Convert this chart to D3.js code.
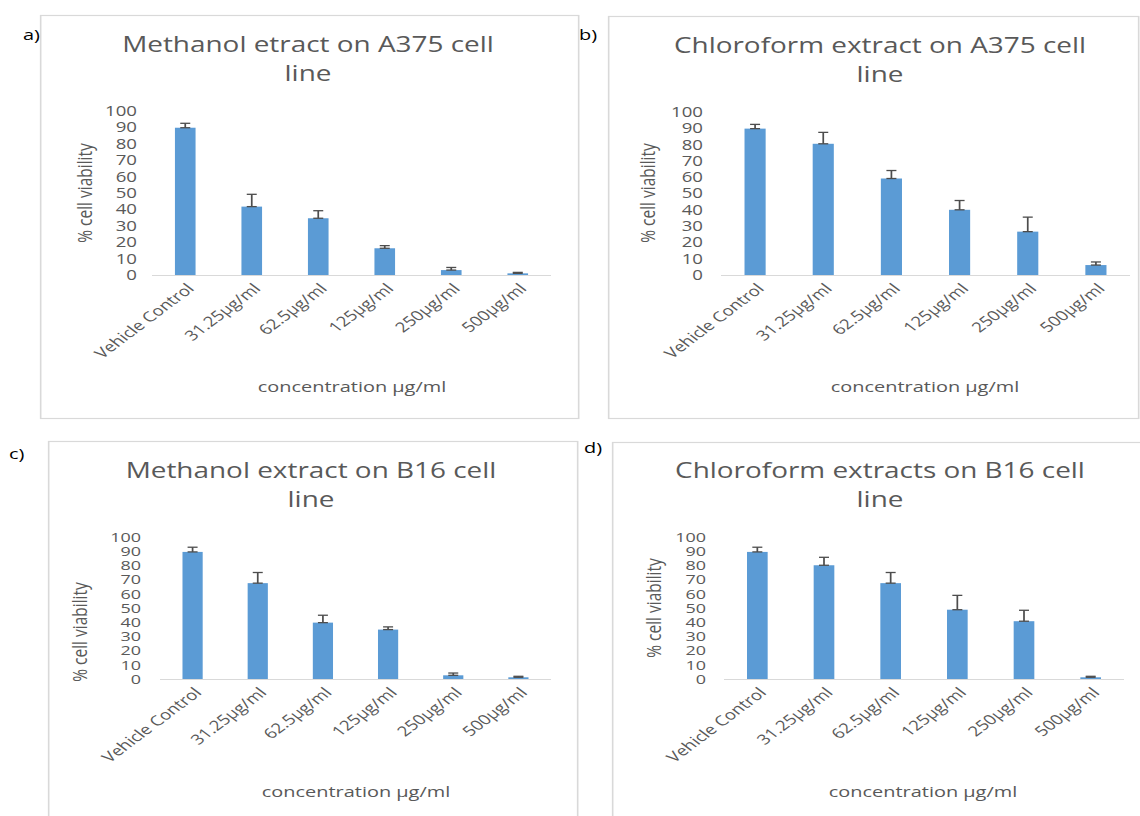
<!DOCTYPE html>
<html>
<head>
<meta charset="utf-8">
<script src="https://cdn.jsdelivr.net/npm/d3@7"></script>
<style>
  body { margin: 0; background: #fff; }
  svg { display: block; }
  text { font-family: "Open Sans", sans-serif; fill: #595959; }
</style>
</head>
<body>
<div id="chart"></div>
<script>
// categories shared by the four panels
var categories = ["Vehicle Control", "31.25µg/ml", "62.5µg/ml", "125µg/ml", "250µg/ml", "500µg/ml"];
var yTicks = [0, 10, 20, 30, 40, 50, 60, 70, 80, 90, 100];

// a) methanol / A375
var methA375 = [89.8, 41.7, 34.6, 16.3, 3.0, 1.0];
var methA375Err = [2.7, 7.5, 4.6, 1.6, 1.6, 0.6];
// b) chloroform / A375
var chloA375 = [89.8, 80.5, 59.2, 40.0, 26.6, 6.1];
var chloA375Err = [2.6, 7.0, 4.9, 5.7, 8.9, 1.9];
// c) methanol / B16
var methB16 = [89.5, 67.5, 39.7, 34.8, 2.6, 1.2];
var methB16Err = [3.3, 7.5, 5.2, 1.9, 1.6, 0.7];
// d) chloroform / B16
var chloB16 = [89.5, 80.1, 67.5, 48.8, 40.7, 1.2];
var chloB16Err = [3.3, 5.6, 7.5, 10.1, 7.7, 0.7];

var titles = [
  ["Methanol etract on A375 cell", "line"],
  ["Chloroform extract on A375 cell", "line"],
  ["Methanol extract on B16 cell", "line"],
  ["Chloroform extracts on B16 cell", "line"]
];
var tags = ["a)", "b)", "c)", "d)"];
var yLabel = "% cell viability";
var xLabel = "concentration µg/ml";

// the source image is stretched sideways, so draw in a narrower viewBox
var W = 1140, H = 816, K = 1.33;

var svg = d3.select("#chart").append("svg")
  .attr("width", W)
  .attr("height", H)
  .attr("viewBox", "0 0 " + (W / K) + " " + H)
  .attr("preserveAspectRatio", "none");

// layout in page pixels
var panels = [
  {values: methA375, err: methA375Err, box: [40, 15, 578, 418], tag: [23, 40],
   titleX: 308, titleY: 52, plot: [152, 551], y0: 275, y100: 111, tickX: 137, tickFont: 14,
   yLabX: 85, yLabY: 193, xLabX: 352, xLabY: 392},
  {values: chloA375, err: chloA375Err, box: [608, 16, 1138, 418], tag: [579, 40],
   titleX: 880, titleY: 53, plot: [721, 1130], y0: 275, y100: 112, tickX: 703, tickFont: 14,
   yLabX: 648, yLabY: 193, xLabX: 925, xLabY: 392},
  {values: methB16, err: methB16Err, box: [48, 441, 577, 830], tag: [9, 459],
   titleX: 311, titleY: 478, plot: [160, 551], y0: 679, y100: 537, tickX: 141, tickFont: 13.5,
   yLabX: 80, yLabY: 632, xLabX: 356, xLabY: 797},
  {values: chloB16, err: chloB16Err, box: [612, 442, 1150, 830], tag: [584, 453],
   titleX: 880, titleY: 478, plot: [724, 1124], y0: 679, y100: 537, tickX: 706, tickFont: 13.5,
   yLabX: 654, yLabY: 608, xLabX: 923, xLabY: 797}
];

function sx(px) { return px / K; }

panels.forEach(function(p, i) {
  var g = svg.append("g");

  // panel frame
  g.append("rect")
    .attr("x", sx(p.box[0]) + 0.5)
    .attr("y", p.box[1] + 0.5)
    .attr("width", sx(p.box[2] - p.box[0]))
    .attr("height", p.box[3] - p.box[1])
    .attr("fill", "none")
    .attr("stroke", "#d9d9d9")
    .attr("stroke-width", 1.2);

  g.append("text")
    .attr("x", sx(p.tag[0]))
    .attr("y", p.tag[1])
    .style("font-size", "15px")
    .style("fill", "#000")
    .text(tags[i]);

  // title, two lines
  g.selectAll("text.title")
    .data(titles[i])
    .enter().append("text")
    .attr("class", "title")
    .attr("x", sx(p.titleX))
    .attr("y", function(d, j) { return p.titleY + j * 29.5; })
    .attr("text-anchor", "middle")
    .style("font-size", "21px")
    .text(function(d) { return d; });

  var x = d3.scaleBand()
    .domain(categories)
    .range([sx(p.plot[0]), sx(p.plot[1])])
    .paddingInner(0.69)
    .paddingOuter(0.345);

  var y = d3.scaleLinear()
    .domain([0, 100])
    .range([p.y0, p.y100]);

  // y tick labels only, no axis line
  var yAxis = g.append("g")
    .attr("transform", "translate(" + sx(p.tickX) + ",0)")
    .call(d3.axisLeft(y).tickValues(yTicks).tickSize(0).tickPadding(0));
  yAxis.select(".domain").remove();
  yAxis.selectAll("text")
    .style("font-size", p.tickFont + "px")
    .style("font-family", "'Open Sans', sans-serif")
    .attr("fill", "#595959");

  // category axis
  var xAxis = g.append("g")
    .attr("transform", "translate(0," + p.y0 + ")")
    .call(d3.axisBottom(x).tickSize(0).tickPadding(0).tickSizeOuter(0));
  xAxis.select(".domain")
    .attr("d", "M" + sx(p.plot[0]) + ",0.5H" + sx(p.plot[1]))
    .attr("stroke", "#d9d9d9")
    .attr("stroke-width", 1.2);
  xAxis.selectAll(".tick text")
    .attr("text-anchor", "end")
    .attr("dy", "0.35em")
    .attr("transform", "translate(4,11) rotate(-45)")
    .style("font-size", "14px")
    .style("font-family", "'Open Sans', sans-serif")
    .attr("fill", "#595959");

  var rows = categories.map(function(c, j) {
    return {cat: c, v: p.values[j], e: p.err[j]};
  });

  g.selectAll("rect.bar")
    .data(rows)
    .enter().append("rect")
    .attr("class", "bar")
    .attr("x", function(d) { return x(d.cat); })
    .attr("width", x.bandwidth())
    .attr("y", function(d) { return y(d.v); })
    .attr("height", function(d) { return y(0) - y(d.v); })
    .attr("fill", "#5b9bd5");

  // error bars (plus direction, capped at both ends)
  var cap = sx(5);
  var eb = g.selectAll("g.err")
    .data(rows)
    .enter().append("g")
    .attr("class", "err")
    .attr("stroke", "#4d4d4d")
    .attr("stroke-width", 1.3);
  eb.append("line")
    .attr("x1", function(d) { return x(d.cat) + x.bandwidth() / 2; })
    .attr("x2", function(d) { return x(d.cat) + x.bandwidth() / 2; })
    .attr("y1", function(d) { return y(d.v); })
    .attr("y2", function(d) { return y(d.v + d.e); });
  eb.append("line")
    .attr("x1", function(d) { return x(d.cat) + x.bandwidth() / 2 - cap; })
    .attr("x2", function(d) { return x(d.cat) + x.bandwidth() / 2 + cap; })
    .attr("y1", function(d) { return y(d.v + d.e); })
    .attr("y2", function(d) { return y(d.v + d.e); });
  eb.append("line")
    .attr("x1", function(d) { return x(d.cat) + x.bandwidth() / 2 - cap; })
    .attr("x2", function(d) { return x(d.cat) + x.bandwidth() / 2 + cap; })
    .attr("y1", function(d) { return y(d.v); })
    .attr("y2", function(d) { return y(d.v); });

  // axis titles
  g.append("text")
    .attr("transform", "translate(" + sx(p.yLabX) + "," + p.yLabY + ") rotate(-90)")
    .attr("text-anchor", "middle")
    .attr("dy", "0.35em")
    .style("font-size", "15.5px")
    .text(yLabel);

  g.append("text")
    .attr("x", sx(p.xLabX))
    .attr("y", p.xLabY)
    .attr("text-anchor", "middle")
    .style("font-size", "15px")
    .text(xLabel);
});
</script>
</body>
</html>
